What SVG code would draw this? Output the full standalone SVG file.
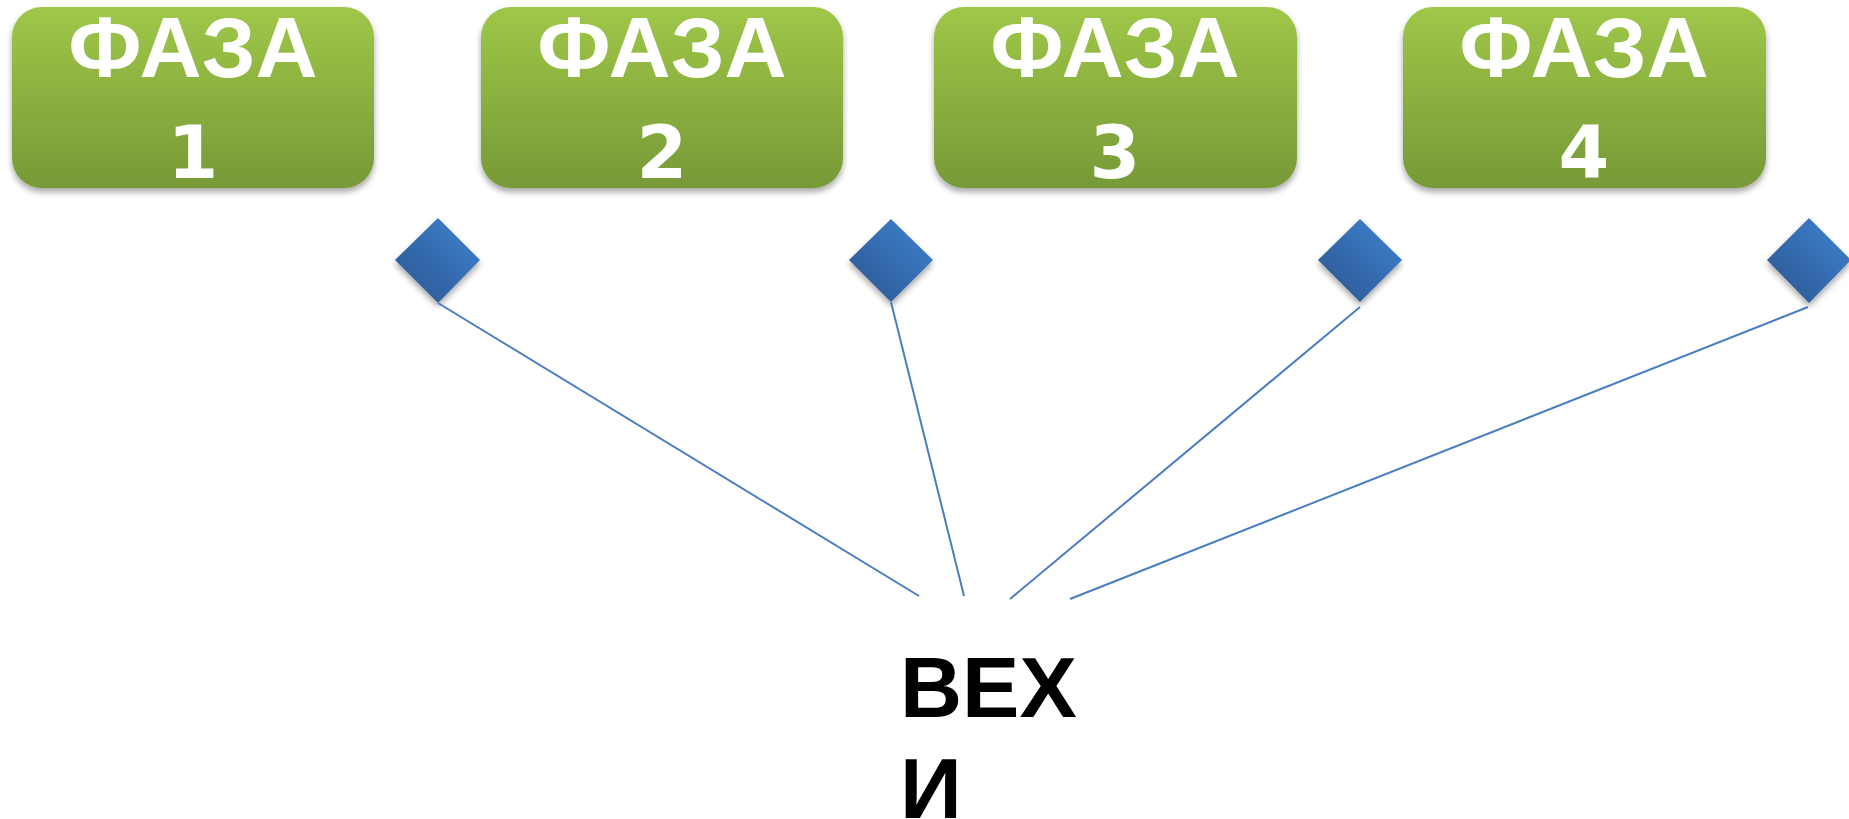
<svg xmlns="http://www.w3.org/2000/svg" width="1849" height="819" viewBox="0 0 1849 819">
<defs>
<linearGradient id="gGreen" x1="0" y1="0" x2="0" y2="1">
<stop offset="0" stop-color="#9fc748"/>
<stop offset="1" stop-color="#779937"/>
</linearGradient>
<linearGradient id="gBlue" x1="1" y1="0" x2="0" y2="1">
<stop offset="0" stop-color="#3f83d0"/>
<stop offset="1" stop-color="#2a5590"/>
</linearGradient>
<filter id="sh" x="-10%" y="-10%" width="120%" height="130%">
<feGaussianBlur in="SourceAlpha" stdDeviation="3"/>
<feOffset dx="0" dy="4" result="b"/>
<feComponentTransfer><feFuncA type="linear" slope="0.35"/></feComponentTransfer>
<feMerge><feMergeNode/><feMergeNode in="SourceGraphic"/></feMerge>
</filter>
</defs>
<style>
.box{fill:url(#gGreen);filter:url(#sh)}
.dia{fill:url(#gBlue);filter:url(#sh)}
.t1{font-family:"Liberation Sans",Arial,sans-serif;font-weight:bold;font-size:86px;fill:#fff;text-anchor:middle}
.t2{font-family:"DejaVu Sans",sans-serif;font-weight:bold;font-size:73px;fill:#fff;text-anchor:middle}
.lbl{font-family:"Liberation Sans",Arial,sans-serif;font-weight:bold;font-size:86px;fill:#000}
.ln{stroke:#4a7ec2;stroke-width:2;fill:none}
</style>
<g id="phase1">
<rect class="box" x="12" y="7" width="362" height="181" rx="30"/>
<text class="t1" x="193" y="77">ФАЗА</text>
<text class="t2" x="193" y="178">1</text>
</g>
<g id="phase2">
<rect class="box" x="481" y="7" width="362" height="181" rx="30"/>
<text class="t1" x="662" y="77">ФАЗА</text>
<text class="t2" x="662" y="178">2</text>
</g>
<g id="phase3">
<rect class="box" x="934" y="7" width="363" height="181" rx="30"/>
<text class="t1" x="1115" y="77">ФАЗА</text>
<text class="t2" x="1115" y="178">3</text>
</g>
<g id="phase4">
<rect class="box" x="1403" y="7" width="363" height="181" rx="30"/>
<text class="t1" x="1584" y="77">ФАЗА</text>
<text class="t2" x="1584" y="178">4</text>
</g>
<g id="d1"><polygon class="dia" points="438,218 480,260 438,303 395,260"/></g>
<g id="d2"><polygon class="dia" points="891,219 933,260 891,302 849,260"/></g>
<g id="d3"><polygon class="dia" points="1360,219 1402,260 1360,302 1318,260"/></g>
<g id="d4"><polygon class="dia" points="1809,218 1851,260 1809,303 1767,260"/></g>
<g id="connectors">
<line class="ln" x1="438" y1="303" x2="919" y2="596"/>
<line class="ln" x1="891" y1="302" x2="964" y2="596"/>
<line class="ln" x1="1360" y1="307" x2="1010" y2="599"/>
<line class="ln" x1="1808" y1="307" x2="1070" y2="599"/>
</g>
<g id="milestones">
<text class="lbl" x="900" y="717">ВЕХ</text>
<text class="lbl" x="900" y="818">И</text>
</g>
</svg>
